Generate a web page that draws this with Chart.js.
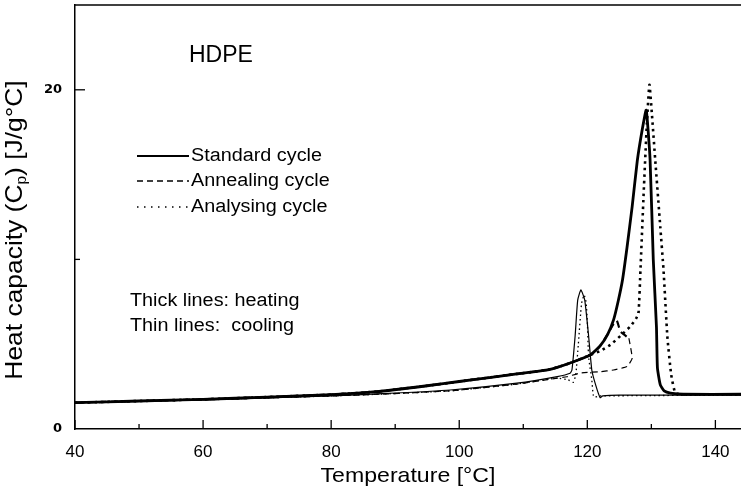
<!DOCTYPE html>
<html>
<head>
<meta charset="utf-8">
<title>HDPE heat capacity</title>
<script src="https://cdn.jsdelivr.net/npm/chart.js@4.4.0/dist/chart.umd.min.js"></script>
<style>
  html, body { margin: 0; padding: 0; background: #fff; }
  #wrap { width: 741px; height: 497px; }
  canvas { display: block; }
</style>
</head>
<body>
<div id="wrap"><canvas id="chart" width="741" height="497"></canvas></div>
<script>
/* ─── DATA ───────────────────────────────────────────── */
const xTicks = [40, 60, 80, 100, 120, 140];
const yTicks = [0, 20];

// thick lines: heating
const stdHeatT  = [40, 50, 60, 70, 80, 87, 95, 100, 105, 109, 114, 117, 120.5, 122, 123.2, 124.1, 124.8, 125.5, 126.2, 127, 127.8, 128.6, 129.2, 129.8, 130.3, 130.8, 130.95, 131.4, 132, 133, 135, 144];
const stdHeatCp = [1.55, 1.65, 1.75, 1.88, 2.03, 2.2, 2.55, 2.8, 3.05, 3.25, 3.5, 3.85, 4.37, 4.9, 5.6, 6.43, 7.5, 8.8, 10.7, 13.1, 15.8, 17.7, 18.8, 15.9, 10, 6, 3.6, 2.6, 2.25, 2.12, 2.05, 2.05];

const anaHeatT  = [40, 50, 60, 70, 80, 87, 95, 100, 105, 109, 114, 117, 120.5, 122, 123.6, 125.2, 126.7, 127.6, 128, 128.3, 128.8, 129.3, 129.7, 130.1, 130.6, 131.4, 131.9, 132.5, 133.1, 133.75, 135, 144];
const anaHeatCp = [1.55, 1.65, 1.75, 1.88, 2.03, 2.2, 2.55, 2.8, 3.05, 3.25, 3.5, 3.85, 4.37, 4.6, 4.96, 5.5, 6.04, 6.5, 6.84, 9.38, 13.9, 18, 20.3, 18.5, 15.9, 11.9, 9.38, 5.45, 3.2, 2.12, 2.05, 2.05];

const annHeatT  = [40, 50, 60, 70, 80, 87, 95, 100, 105, 109, 114, 117, 120.5, 122, 123.2, 124.1, 124.6, 125.2, 126.5];
const annHeatCp = [1.55, 1.65, 1.75, 1.88, 2.03, 2.2, 2.55, 2.8, 3.05, 3.25, 3.5, 3.85, 4.37, 4.9, 5.6, 6.2, 6.4, 5.74, 5.35];

// thin lines: cooling
const stdCoolT  = [144, 125, 122.4, 122, 121.3, 120.7, 120.2, 119.6, 119.0, 118.5, 118.1, 117.6, 117.3, 115.3, 109, 98.6, 88, 80, 60, 40];
const stdCoolCp = [2.0, 2.0, 1.95, 1.85, 2.6, 3.48, 5.5, 7.6, 8.2, 7.6, 5.5, 3.48, 3.29, 3.09, 2.7, 2.3, 2.08, 1.95, 1.72, 1.55];

const anaCoolT  = [144, 122, 121.0, 120.7, 120.2, 120.0, 119.8, 119.5, 119.1, 118.6, 118.2, 117.8, 117, 115.3, 109, 98.6, 88, 80, 60, 40];
const anaCoolCp = [2.0, 1.95, 1.9, 2.9, 4.27, 6.4, 7.5, 7.9, 7.4, 5.0, 3.2, 2.75, 2.9, 3.0, 2.65, 2.25, 2.06, 1.95, 1.72, 1.55];

const annCoolT  = [126.5, 127.0, 126.2, 124.1, 122, 118.9, 116.8, 115.3, 109, 98.6, 88, 80, 60, 40];
const annCoolCp = [5.35, 4.17, 3.68, 3.48, 3.38, 3.3, 3.08, 3.0, 2.65, 2.25, 2.06, 1.95, 1.72, 1.55];

const legendNames = ["Standard cycle", "Annealing cycle", "Analysing cycle"];

/* ─── HELPERS ────────────────────────────────────────── */
const FONT = '"Liberation Sans", Arial, sans-serif';
const pts = (xs, ys) => xs.map((x, i) => ({ x, y: ys[i] }));

function line(data, width, dash) {
  return {
    data,
    showLine: true,
    pointRadius: 0,
    borderColor: "#000",
    backgroundColor: "#000",
    borderWidth: width,
    borderDash: dash || [],
    tension: 0.15,
    fill: false,
  };
}

function text(ctx, s, x, y, size, sx, align) {
  ctx.save();
  ctx.translate(x, y);
  ctx.scale(sx, 1);
  ctx.font = `${size}px ${FONT}`;
  ctx.fillStyle = "#000";
  ctx.textAlign = align || "left";
  ctx.textBaseline = "middle";
  ctx.fillText(s, 0, 0);
  ctx.restore();
}

/* ─── DECORATIONS: ticks, frame, labels, legend ──────── */
const decor = {
  id: "decor",
  afterDraw(chart) {
    const { ctx, chartArea: a, scales: { x, y } } = chart;
    ctx.save();
    ctx.strokeStyle = "#000";

    // top frame
    ctx.lineWidth = 1.5;
    ctx.beginPath();
    ctx.moveTo(a.left, a.top);
    ctx.lineTo(a.right, a.top);
    ctx.stroke();

    // inward ticks
    ctx.lineWidth = 1.3;
    for (let v = 40; v <= 140; v += 10) {
      const px = x.getPixelForValue(v);
      const len = v % 20 === 0 ? 9 : 5;
      ctx.beginPath();
      ctx.moveTo(px, a.bottom);
      ctx.lineTo(px, a.bottom - len);
      ctx.stroke();
    }
    [[10, 5], [20, 10]].forEach(([v, len]) => {
      const py = y.getPixelForValue(v);
      ctx.beginPath();
      ctx.moveTo(a.left, py);
      ctx.lineTo(a.left + len, py);
      ctx.stroke();
    });

    // axis titles
    text(ctx, "Temperature [°C]", 408, 476, 21, 1.1, "center");

    ctx.save();
    ctx.translate(15, 230);
    ctx.rotate(-Math.PI / 2);
    ctx.scale(1.1, 1);
    ctx.fillStyle = "#000";
    ctx.textBaseline = "middle";
    ctx.font = `24px ${FONT}`;
    const s1 = "Heat capacity (C", s3 = ") [J/g°C]";
    const w1 = ctx.measureText(s1).width, w3 = ctx.measureText(s3).width;
    ctx.font = `14px ${FONT}`;
    const w2 = ctx.measureText("p").width;
    let sx = -(w1 + w2 + w3) / 2;
    ctx.font = `24px ${FONT}`;
    ctx.fillText(s1, sx, 0);
    ctx.font = `14px ${FONT}`;
    ctx.fillText("p", sx + w1, 7);
    ctx.font = `24px ${FONT}`;
    ctx.fillText(s3, sx + w1 + w2, 0);
    ctx.restore();

    // annotations
    text(ctx, "HDPE", 189, 56, 23, 1.0);
    text(ctx, "Thick lines: heating", 130, 301, 18, 1.1);
    text(ctx, "Thin lines:  cooling", 130, 326, 18, 1.1);

    // legend
    const rows = [
      { yy: 156, dash: [], w: 2 },
      { yy: 181, dash: [6, 4], w: 1.5 },
      { yy: 207, dash: [1.5, 5.5], w: 1.5 },
    ];
    rows.forEach((r, i) => {
      ctx.lineWidth = r.w;
      ctx.setLineDash(r.dash);
      ctx.beginPath();
      ctx.moveTo(137, r.yy);
      ctx.lineTo(189, r.yy);
      ctx.stroke();
      ctx.setLineDash([]);
      text(ctx, legendNames[i], 191, r.yy, 18, 1.1);
    });

    ctx.restore();
  },
};

/* ─── CHART ──────────────────────────────────────────── */
new Chart(document.getElementById("chart"), {
  type: "scatter",
  data: {
    datasets: [
      line(pts(annCoolT, annCoolCp), 1.2, [6, 4]),
      line(pts(anaCoolT, anaCoolCp), 1.3, [1.5, 3]),
      line(pts(stdCoolT, stdCoolCp), 1.2),
      line(pts(annHeatT, annHeatCp), 2.2, [7, 5]),
      line(pts(stdHeatT, stdHeatCp), 2.8),
      line(pts(anaHeatT, anaHeatCp), 2.6, [2.5, 4]),
    ],
  },
  options: {
    responsive: false,
    animation: false,
    layout: { padding: { top: 5, right: 0, left: 0, bottom: 0 } },
    plugins: { legend: { display: false }, tooltip: { enabled: false } },
    scales: {
      x: {
        type: "linear",
        min: 40,
        max: 144,
        grid: { display: false, drawTicks: false },
        border: { color: "#000", width: 1.5 },
        ticks: { stepSize: 20, padding: 13, color: "#000", maxRotation: 0, autoSkip: false,
                 font: { size: 17, family: FONT } },
        afterBuildTicks: s => { s.ticks = xTicks.map(v => ({ value: v })); },
        afterFit: s => { s.height = 68; s.paddingLeft = 0; s.paddingRight = 0; },
      },
      y: {
        type: "linear",
        min: 0,
        max: 25,
        grid: { display: false, drawTicks: false },
        border: { color: "#000", width: 1.5 },
        ticks: { padding: 13, color: "#000",
                 font: { size: 13, weight: "bold", family: '"DejaVu Sans", sans-serif' } },
        afterBuildTicks: s => { s.ticks = yTicks.map(v => ({ value: v })); },
        afterFit: s => { s.width = 75; s.paddingTop = 0; s.paddingBottom = 0; },
      },
    },
  },
  plugins: [decor],
});
</script>
</body>
</html>
